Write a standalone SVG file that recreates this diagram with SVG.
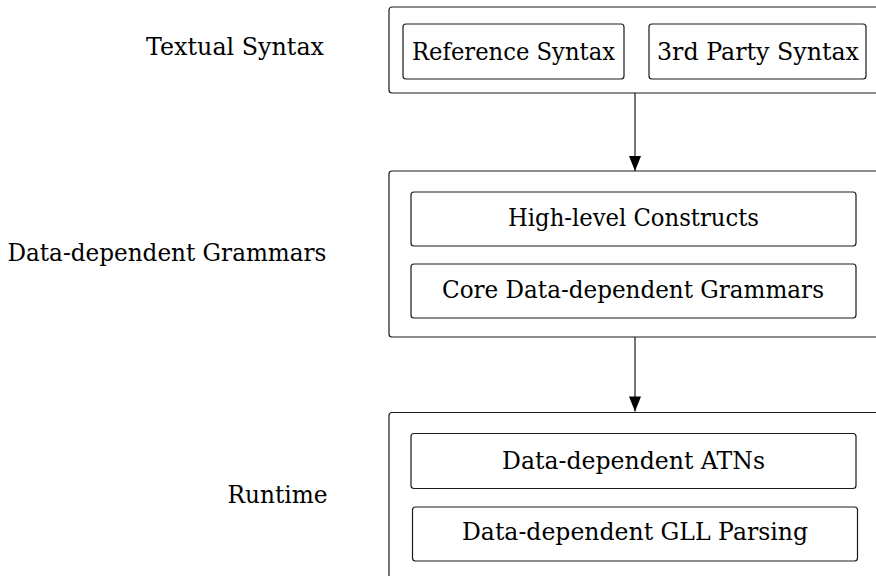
<svg xmlns="http://www.w3.org/2000/svg" width="876" height="577" viewBox="0 0 876 577">
<style>
  .outer { fill: none; stroke: #1a1a1a; stroke-width: 1.2; }
  .inner { fill: #ffffff; stroke: #1a1a1a; stroke-width: 1.2; }
  .lbl { font-family: "DejaVu Serif", "Liberation Serif", serif; font-size: 24px; fill: #000; }
  .conn { stroke: #1a1a1a; stroke-width: 1.2; fill: none; }
</style>
<defs>
  <marker id="arrow" markerUnits="userSpaceOnUse" markerWidth="16" markerHeight="12" viewBox="0 0 15 12" refX="15" refY="6" orient="auto">
    <path d="M0,0 L15,6 L0,12 Z" fill="#000"/>
  </marker>
</defs>
<rect width="876" height="577" fill="#ffffff"/>

<g id="label-textual-syntax">
  <text class="lbl" x="146" y="55" textLength="178" lengthAdjust="spacingAndGlyphs">Textual Syntax</text>
</g>
<g id="label-grammars">
  <text class="lbl" x="7.5" y="261" textLength="319" lengthAdjust="spacingAndGlyphs">Data-dependent Grammars</text>
</g>
<g id="label-runtime">
  <text class="lbl" x="227.5" y="503" textLength="100" lengthAdjust="spacingAndGlyphs">Runtime</text>
</g>

<g id="textual-syntax">
  <rect class="outer" x="389" y="7" width="500" height="86" rx="3"/>
  <g id="reference-syntax">
    <rect class="inner" x="403" y="24" width="221" height="55" rx="3"/>
    <text class="lbl" x="412" y="60" textLength="203" lengthAdjust="spacingAndGlyphs">Reference Syntax</text>
  </g>
  <g id="third-party-syntax">
    <rect class="inner" x="649" y="24" width="217" height="55" rx="3"/>
    <text class="lbl" x="657" y="60" textLength="202" lengthAdjust="spacingAndGlyphs">3rd Party Syntax</text>
  </g>
</g>

<g id="data-dependent-grammars">
  <rect class="outer" x="389" y="171" width="500" height="166" rx="3"/>
  <g id="high-level-constructs">
    <rect class="inner" x="411" y="192" width="445" height="54" rx="3"/>
    <text class="lbl" x="508" y="226" textLength="251" lengthAdjust="spacingAndGlyphs">High-level Constructs</text>
  </g>
  <g id="core-grammars">
    <rect class="inner" x="411" y="264" width="445" height="54" rx="3"/>
    <text class="lbl" x="442" y="297.5" textLength="382" lengthAdjust="spacingAndGlyphs">Core Data-dependent Grammars</text>
  </g>
</g>

<g id="runtime">
  <path class="outer" d="M389,576 L389,415.5 Q389,412.5 392,412.5 L889,412.5"/>
  <g id="atns">
    <rect class="inner" x="411" y="433.5" width="445" height="55" rx="3"/>
    <text class="lbl" x="502" y="468.5" textLength="263" lengthAdjust="spacingAndGlyphs">Data-dependent ATNs</text>
  </g>
  <g id="gll-parsing">
    <rect class="inner" x="412.5" y="507" width="445" height="54" rx="3"/>
    <text class="lbl" x="462" y="540" textLength="346" lengthAdjust="spacingAndGlyphs">Data-dependent GLL Parsing</text>
  </g>
</g>

<g id="connectors">
  <line class="conn" x1="635" y1="93" x2="635" y2="171" marker-end="url(#arrow)"/>
  <line class="conn" x1="635" y1="337" x2="635" y2="411.5" marker-end="url(#arrow)"/>
</g>
</svg>
